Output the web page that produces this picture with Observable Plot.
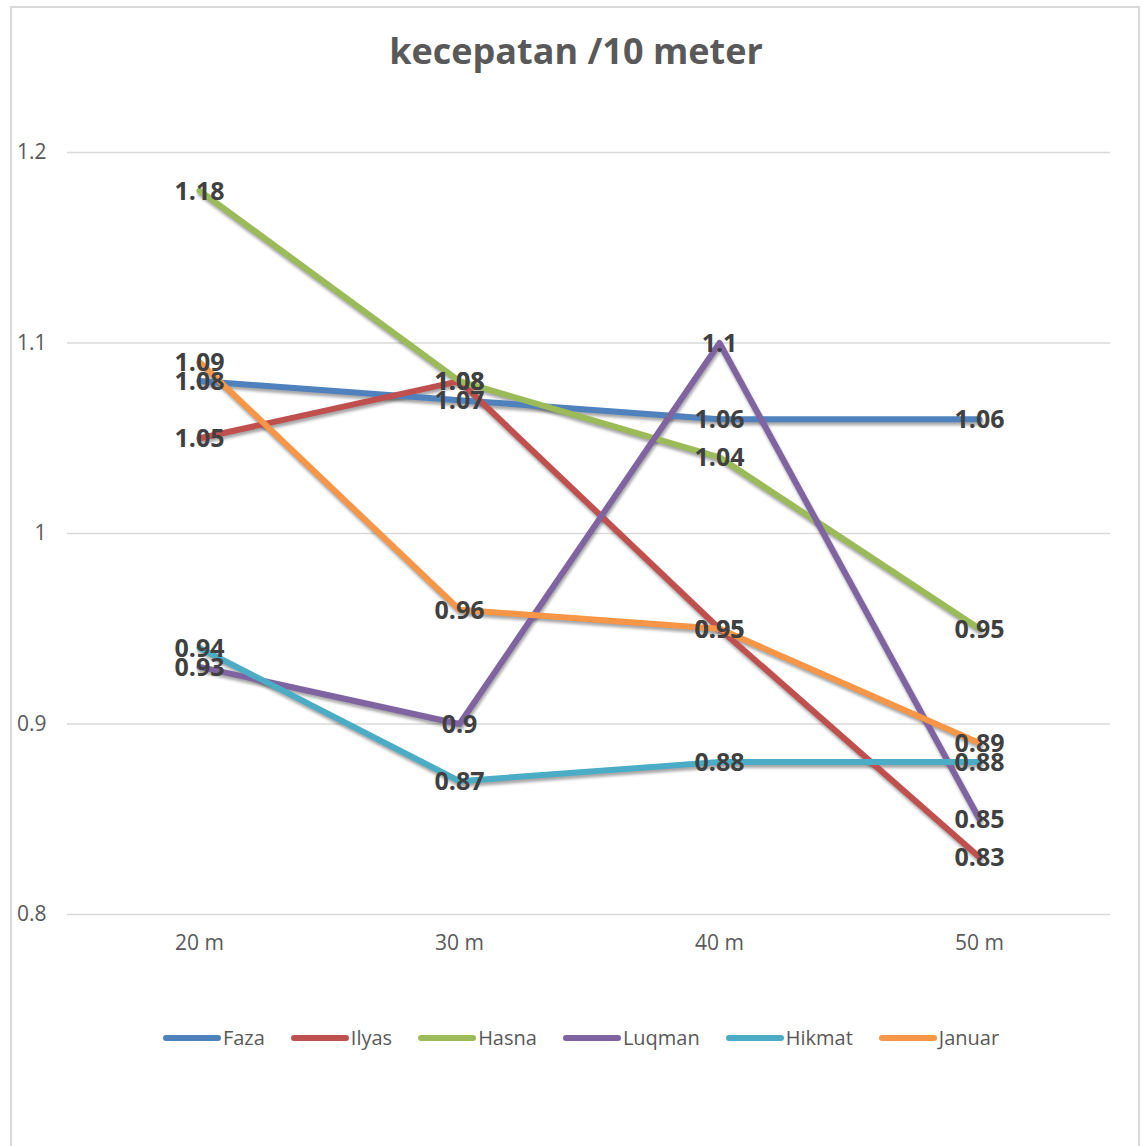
<!DOCTYPE html>
<html>
<head>
<meta charset="utf-8">
<script src="https://cdn.jsdelivr.net/npm/d3@7"></script>
<script src="https://cdn.jsdelivr.net/npm/@observablehq/plot@0.6"></script>
<style>
  html, body { margin: 0; padding: 0; background: #fff; }
  #wrap { position: relative; width: 1143px; height: 1146px; overflow: hidden; font-family: "Open Sans", sans-serif; }
  #frame { position: absolute; left: 10px; top: 6px; width: 1130px; height: 1160px; border: 2px solid #d9d9d9; box-sizing: border-box; }
  #title { position: absolute; left: 0; width: 1152px; top: 26px; text-align: center; font-size: 36px; font-weight: bold; color: #595959; }
  #chart { position: absolute; left: 0; top: 0; }
  #legend { position: absolute; left: 0; width: 1162px; top: 1024px; display: flex; justify-content: center; font-size: 20px; color: #595959; }
  .item { display: flex; align-items: center; margin: 0 13px; }
  .sw { width: 58px; height: 6px; border-radius: 3px; margin-right: 2px; }
</style>
</head>
<body>
<div id="wrap">
  <div id="frame"></div>
  <div id="chart"></div>
  <div id="title">kecepatan /10 meter</div>
  <div id="legend"></div>
</div>
<script>
const categories = ["20 m", "30 m", "40 m", "50 m"];
const seriesNames = ["Faza", "Ilyas", "Hasna", "Luqman", "Hikmat", "Januar"];
const seriesColors = ["#4F81BD", "#C0504D", "#9BBB59", "#8064A2", "#4BACC6", "#F79646"];
const faza   = [1.08, 1.07, 1.06, 1.06];
const ilyas  = [1.05, 1.08, 0.95, 0.83];
const hasna  = [1.18, 1.08, 1.04, 0.95];
const luqman = [0.93, 0.90, 1.10, 0.85];
const hikmat = [0.94, 0.87, 0.88, 0.88];
const januar = [1.09, 0.96, 0.95, 0.89];
const yTicks = [0.8, 0.9, 1, 1.1, 1.2];
const yTickLabels = ["0.8", "0.9", "1", "1.1", "1.2"];

const seriesValues = [faza, ilyas, hasna, luqman, hikmat, januar];
const data = [];
seriesNames.forEach((name, i) => {
  seriesValues[i].forEach((v, j) => data.push({series: name, cat: categories[j], value: v}));
});

const chart = Plot.plot({
  width: 1143,
  height: 1000,
  marginTop: 152,
  marginBottom: 86,
  marginLeft: 67,
  marginRight: 33,
  style: {background: "transparent", fontFamily: "Open Sans, sans-serif", fontSize: "21px"},
  x: {type: "point", domain: categories, padding: 0.5, label: null},
  y: {domain: [0.8, 1.2], label: null},
  color: {domain: seriesNames, range: seriesColors},
  marks: [
    Plot.ruleY(yTicks, {stroke: "#d9d9d9", strokeWidth: 1.5}),
    Plot.axisY({ticks: yTicks, tickFormat: d => yTickLabels[yTicks.indexOf(d)], tickSize: 0, tickPadding: 21, fontSize: 21, fill: "#595959", label: null}),
    Plot.axisX({tickSize: 0, tickPadding: 21, fontSize: 21, fill: "#595959", label: null}),
    Plot.line(data, {x: "cat", y: "value", z: "series", stroke: "#000", strokeOpacity: 0.35, strokeWidth: 6, dx: 1, dy: 3}),
    Plot.line(data, {x: "cat", y: "value", z: "series", stroke: "series", strokeWidth: 6}),
    Plot.text(data, {x: "cat", y: "value", text: d => String(d.value), fill: "#404040", fontSize: 25, fontWeight: "bold", dy: 1})
  ]
});

// blur filter for the shadow line group
const svgns = "http://www.w3.org/2000/svg";
const defs = document.createElementNS(svgns, "defs");
defs.innerHTML = '<filter id="shblur" x="-10%" y="-10%" width="120%" height="120%"><feGaussianBlur stdDeviation="1.6"/></filter>';
chart.insertBefore(defs, chart.firstChild);
const lineGroups = chart.querySelectorAll('g[aria-label="line"]');
if (lineGroups.length) lineGroups[0].setAttribute("filter", "url(#shblur)");

document.getElementById("chart").appendChild(chart);

const legend = document.getElementById("legend");
seriesNames.forEach((name, i) => {
  const it = document.createElement("div");
  it.className = "item";
  it.innerHTML = `<span class="sw" style="background:${seriesColors[i]}"></span><span>${name}</span>`;
  legend.appendChild(it);
});
</script>
</body>
</html>
